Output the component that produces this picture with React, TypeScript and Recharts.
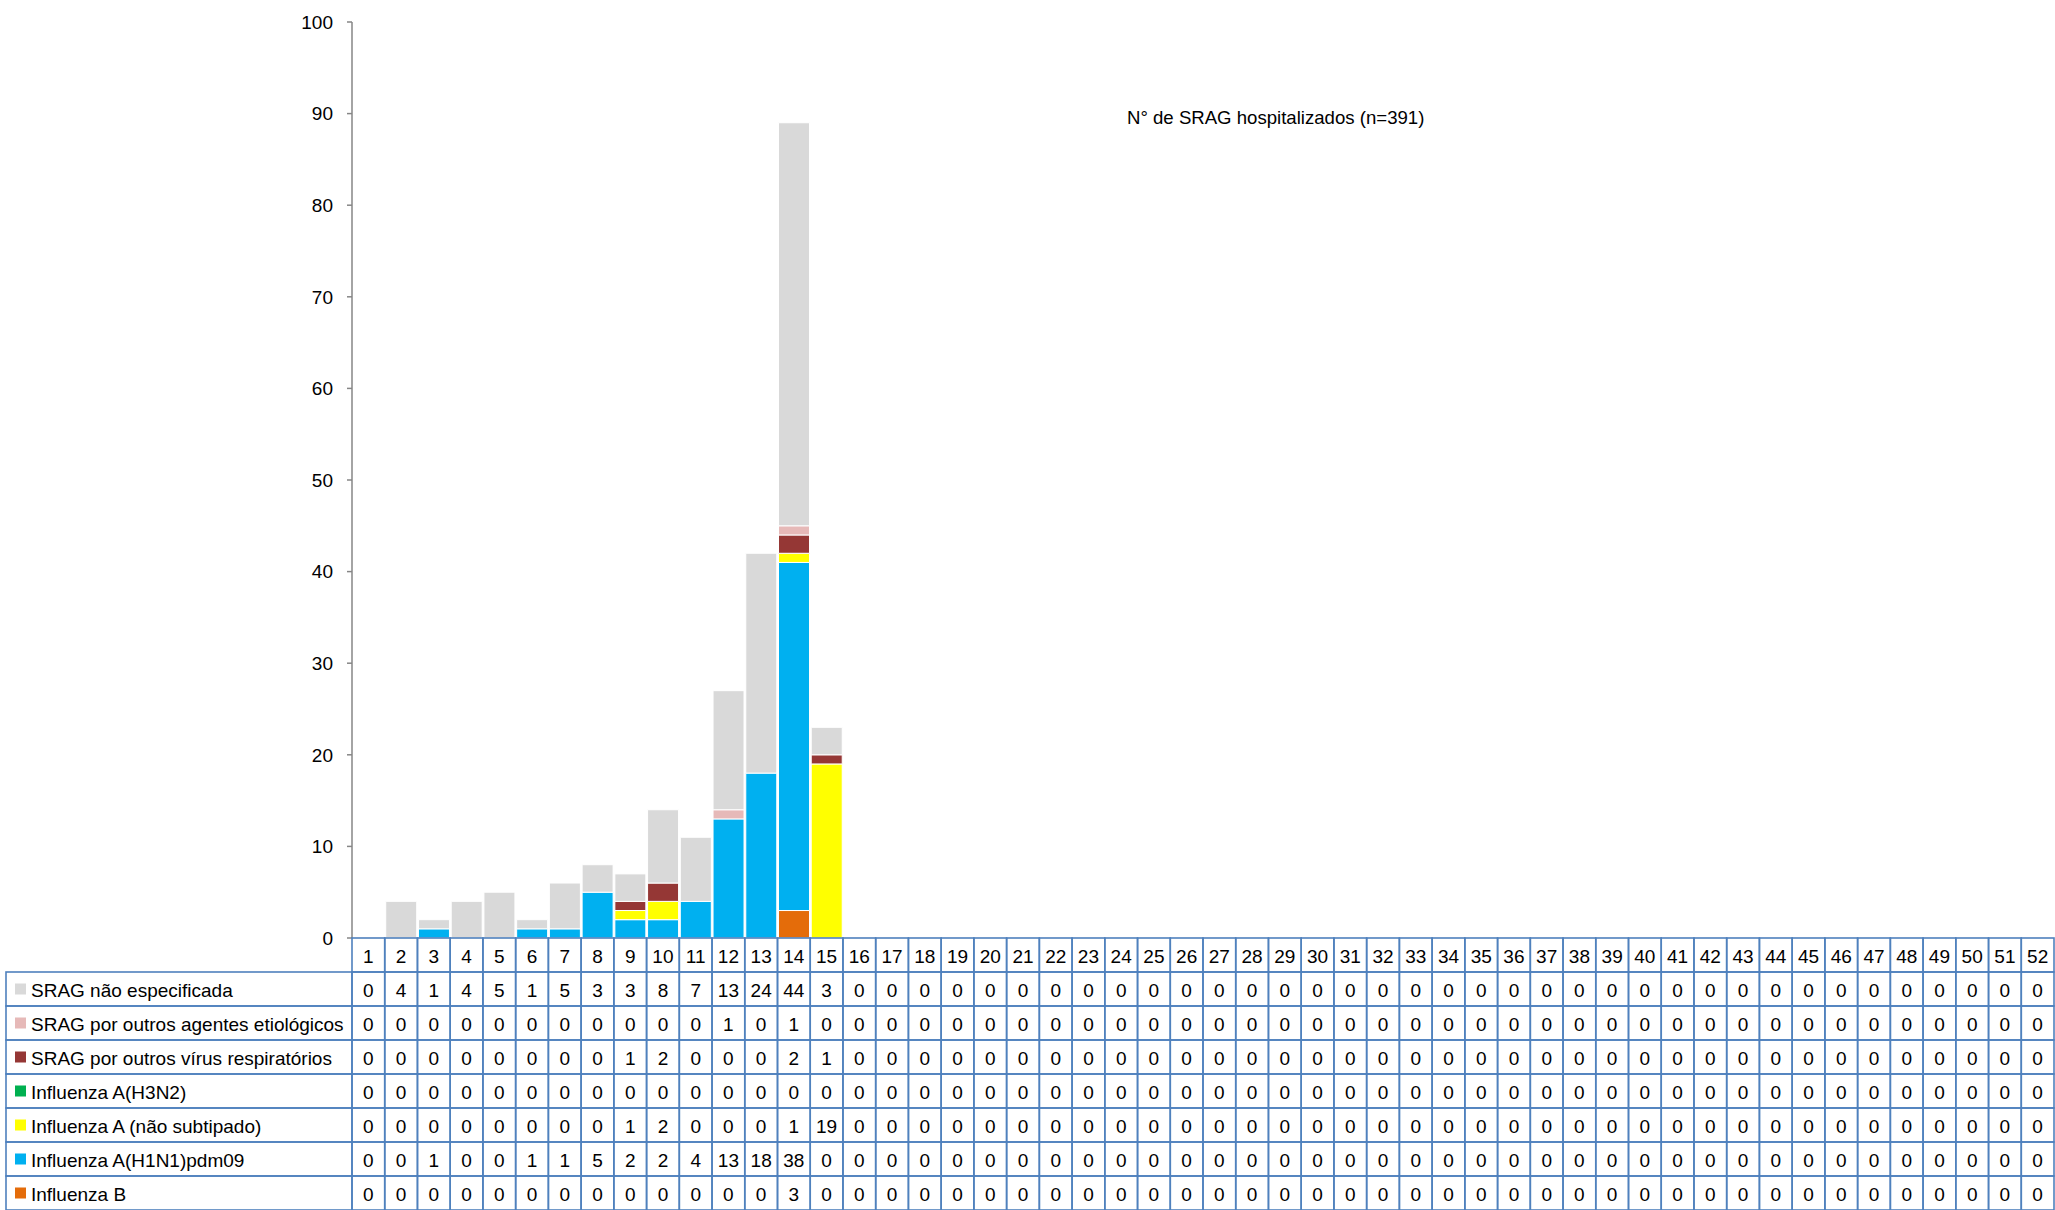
import React from 'react';
import { BarChart, Bar, XAxis, YAxis } from 'recharts';

// ---- Data ----
const weeks = ['1','2','3','4','5','6','7','8','9','10','11','12','13','14','15','16','17','18','19','20','21','22','23','24','25','26','27','28','29','30','31','32','33','34','35','36','37','38','39','40','41','42','43','44','45','46','47','48','49','50','51','52'];

const naoEspecificada = [0,4,1,4,5,1,5,3,3,8,7,13,24,44,3,0,0,0,0,0,0,0,0,0,0,0,0,0,0,0,0,0,0,0,0,0,0,0,0,0,0,0,0,0,0,0,0,0,0,0,0,0];
const outrosAgentes = [0,0,0,0,0,0,0,0,0,0,0,1,0,1,0,0,0,0,0,0,0,0,0,0,0,0,0,0,0,0,0,0,0,0,0,0,0,0,0,0,0,0,0,0,0,0,0,0,0,0,0,0];
const outrosVirus = [0,0,0,0,0,0,0,0,1,2,0,0,0,2,1,0,0,0,0,0,0,0,0,0,0,0,0,0,0,0,0,0,0,0,0,0,0,0,0,0,0,0,0,0,0,0,0,0,0,0,0,0];
const h3n2 = [0,0,0,0,0,0,0,0,0,0,0,0,0,0,0,0,0,0,0,0,0,0,0,0,0,0,0,0,0,0,0,0,0,0,0,0,0,0,0,0,0,0,0,0,0,0,0,0,0,0,0,0];
const naoSubtipado = [0,0,0,0,0,0,0,0,1,2,0,0,0,1,19,0,0,0,0,0,0,0,0,0,0,0,0,0,0,0,0,0,0,0,0,0,0,0,0,0,0,0,0,0,0,0,0,0,0,0,0,0];
const h1n1 = [0,0,1,0,0,1,1,5,2,2,4,13,18,38,0,0,0,0,0,0,0,0,0,0,0,0,0,0,0,0,0,0,0,0,0,0,0,0,0,0,0,0,0,0,0,0,0,0,0,0,0,0];
const influenzaB = [0,0,0,0,0,0,0,0,0,0,0,0,0,3,0,0,0,0,0,0,0,0,0,0,0,0,0,0,0,0,0,0,0,0,0,0,0,0,0,0,0,0,0,0,0,0,0,0,0,0,0,0];

const yTicks = [0,10,20,30,40,50,60,70,80,90,100];
const annotation = 'N° de SRAG hospitalizados (n=391)';

// table rows, top to bottom
const tableRows = [
  { key: 'naoEsp', name: 'SRAG não especificada', color: '#D9D9D9', values: naoEspecificada },
  { key: 'outAg', name: 'SRAG por outros agentes etiológicos', color: '#E6B9B8', values: outrosAgentes },
  { key: 'outVir', name: 'SRAG por outros vírus respiratórios', color: '#953735', values: outrosVirus },
  { key: 'h3n2', name: 'Influenza A(H3N2)', color: '#00B050', values: h3n2 },
  { key: 'naoSub', name: 'Influenza A (não subtipado)', color: '#FFFF00', values: naoSubtipado },
  { key: 'h1n1', name: 'Influenza A(H1N1)pdm09', color: '#00B0F0', values: h1n1 },
  { key: 'fluB', name: 'Influenza B', color: '#E46C0A', values: influenzaB },
];

// stacking order bottom -> top
const stackOrder = ['fluB', 'h1n1', 'naoSub', 'h3n2', 'outVir', 'outAg', 'naoEsp'];

const data = weeks.map((w, i) => {
  const row: Record<string, any> = { week: w };
  tableRows.forEach((r) => { row[r.key] = r.values[i]; });
  return row;
});

// ---- Layout ----
const W = 2055;
const H = 1210;
const LEFT = 352;
const RIGHT_M = 1;
const TOP = 22;
const HEADER_H = 34;
const ROW_H = 34;
const BAND = (W - LEFT - RIGHT_M) / weeks.length;
const BORDER = '#4F81BD';
const FONT = "'Liberation Sans', Arial, sans-serif";
const FS = 19;

const HeaderTick = (props: any) => {
  const { x, y, payload } = props;
  return (
    <g>
      <rect x={x - BAND / 2} y={y} width={BAND} height={HEADER_H} fill="none" stroke={BORDER} strokeWidth={1.6} />
      <text x={x} y={y + HEADER_H / 2 + 1} textAnchor="middle" dominantBaseline="central" fontFamily={FONT} fontSize={FS} fill="#000">
        {payload.value}
      </text>
    </g>
  );
};

const makeRowTick = (rowIdx: number) => (props: any) => {
  const { x, y, payload, index } = props;
  const row = tableRows[rowIdx];
  const i = payload && payload.index !== undefined ? payload.index : index;
  const v = row.values[i];
  return (
    <g>
      {i === 0 && (
        <g>
          <rect x={6} y={y} width={x - BAND / 2 - 6} height={ROW_H} fill="none" stroke={BORDER} strokeWidth={1.6} />
          <rect x={15} y={y + ROW_H / 2 - 5.5} width={11} height={11} fill={row.color} />
          <text x={31} y={y + ROW_H / 2 + 1} textAnchor="start" dominantBaseline="central" fontFamily={FONT} fontSize={FS} fill="#000">
            {row.name}
          </text>
        </g>
      )}
      <rect x={x - BAND / 2} y={y} width={BAND} height={ROW_H} fill="none" stroke={BORDER} strokeWidth={1.6} />
      <text x={x} y={y + ROW_H / 2 + 1} textAnchor="middle" dominantBaseline="central" fontFamily={FONT} fontSize={FS} fill="#000">
        {v}
      </text>
    </g>
  );
};

export default function App() {
  return (
    <div style={{ width: W, height: H, background: '#fff' }}>
      <style>{'body{margin:0;background:#fff;}'}</style>
      <BarChart
        width={W}
        height={H}
        data={data}
        margin={{ top: TOP, right: RIGHT_M, bottom: 0, left: 0 }}
        barCategoryGap={1}
      >
        <YAxis
          type="number"
          domain={[0, 100]}
          ticks={yTicks}
          interval={0}
          width={LEFT}
          axisLine={{ stroke: '#868686', strokeWidth: 1.5 }}
          tickLine={{ stroke: '#868686', strokeWidth: 1.5 }}
          tickSize={5}
          tickMargin={14}
          tick={{ fontFamily: FONT, fontSize: FS, fill: '#000' }}
        />
        <XAxis
          xAxisId="h"
          dataKey="week"
          type="category"
          height={HEADER_H}
          axisLine={false}
          tickLine={false}
          tickSize={0}
          tickMargin={0}
          interval={0}
          tick={<HeaderTick />}
        />
        {tableRows.map((r, ri) => (
          <XAxis
            key={r.key}
            xAxisId={'r' + ri}
            dataKey="week"
            type="category"
            height={ROW_H}
            axisLine={false}
            tickLine={false}
            tickSize={0}
            tickMargin={0}
            interval={0}
            tick={makeRowTick(ri)}
          />
        ))}
        {stackOrder.map((k) => {
          const r = tableRows.find((t) => t.key === k)!;
          return (
            <Bar
              key={k}
              xAxisId="h"
              dataKey={k}
              name={r.name}
              stackId="a"
              fill={r.color}
              stroke="#FFFFFF"
              strokeWidth={1}
              isAnimationActive={false}
            />
          );
        })}
        <text x={1127} y={124} fontFamily={FONT} fontSize={18.6} fill="#000">
          {annotation}
        </text>
      </BarChart>
    </div>
  );
}
